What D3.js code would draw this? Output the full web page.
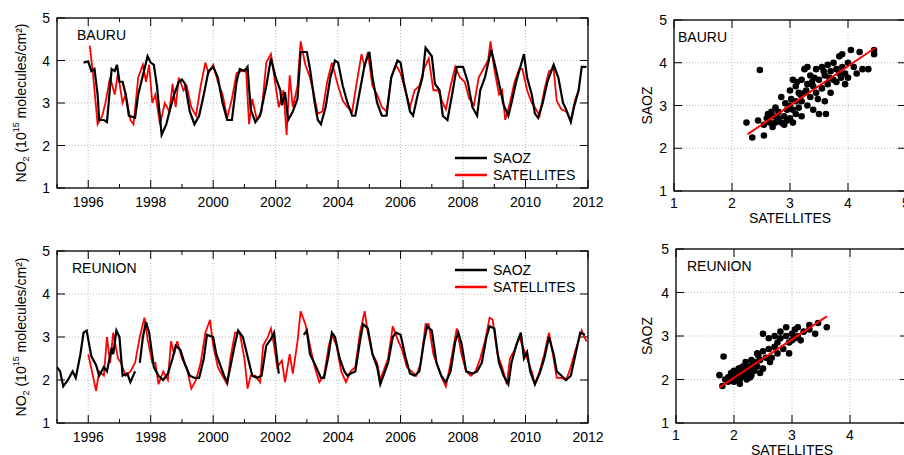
<!DOCTYPE html>
<html><head><meta charset="utf-8">
<script src="https://cdn.jsdelivr.net/npm/d3@7"></script>
<style>body{margin:0;background:#fff}text{font-family:"Liberation Sans",Arial,sans-serif}</style>
</head><body>
<script>
// Series: [decimal year, NO2]
const bauruSaoz = [[1995.85,3.95],[1996.0,3.98],[1996.1,3.75],[1996.2,3.8],[1996.3,3.2],[1996.35,2.6],[1996.5,2.6],[1996.6,2.55],[1996.75,3.8],[1996.85,3.75],[1996.92,3.9],[1997.0,3.5],[1997.1,3.5],[1997.2,3.2],[1997.3,2.7],[1997.5,2.65],[1997.6,3.2],[1997.8,3.8],[1997.9,4.1],[1998.0,3.95],[1998.1,3.9],[1998.2,3.4],[1998.35,2.25],[1998.5,2.5],[1998.6,2.8],[1998.75,3.2],[1998.9,3.5],[1999.0,3.55],[1999.1,3.45],[1999.25,2.8],[1999.4,2.5],[1999.55,2.7],[1999.7,3.2],[1999.85,3.75],[2000.0,3.85],[2000.15,3.6],[2000.3,3.0],[2000.45,2.6],[2000.6,2.6],[2000.75,3.5],[2000.85,3.8],[2001.0,3.75],[2001.1,3.85],[2001.2,2.85],[2001.35,2.55],[2001.5,2.7],[2001.7,3.4],[2001.85,4.05],[2002.0,3.6],[2002.15,3.3],[2002.2,2.95],[2002.3,3.25],[2002.4,2.6],[2002.55,2.8],[2002.7,3.1],[2002.8,4.2],[2003.0,4.2],[2003.1,3.8],[2003.25,3.0],[2003.35,2.6],[2003.45,2.5],[2003.6,2.9],[2003.75,3.6],[2003.9,4.0],[2004.0,3.95],[2004.15,3.4],[2004.3,3.0],[2004.45,2.7],[2004.55,2.7],[2004.7,3.3],[2004.85,3.9],[2005.0,4.2],[2005.1,3.6],[2005.25,3.0],[2005.4,2.7],[2005.55,2.7],[2005.7,3.6],[2005.9,4.0],[2006.0,3.95],[2006.1,3.5],[2006.3,2.8],[2006.4,2.7],[2006.55,3.2],[2006.7,3.6],[2006.8,4.3],[2007.0,4.1],[2007.1,3.45],[2007.25,3.3],[2007.35,2.7],[2007.5,2.6],[2007.65,3.2],[2007.8,3.85],[2008.0,3.85],[2008.15,3.5],[2008.3,2.9],[2008.45,2.7],[2008.55,3.3],[2008.7,3.6],[2008.9,4.25],[2009.05,3.8],[2009.2,3.3],[2009.3,2.95],[2009.45,2.7],[2009.55,3.0],[2009.7,3.5],[2009.95,4.15],[2010.05,3.6],[2010.2,3.2],[2010.3,2.75],[2010.4,2.65],[2010.55,3.0],[2010.7,3.5],[2010.9,3.9],[2011.05,3.6],[2011.2,3.0],[2011.3,2.85],[2011.45,2.55],[2011.55,2.9],[2011.7,3.3],[2011.8,3.85],[2011.95,3.85]];
const bauruSat = [[1996.05,4.35],[1996.15,3.7],[1996.3,2.5],[1996.45,2.7],[1996.55,3.0],[1996.7,3.6],[1996.85,3.2],[1996.95,3.7],[1997.1,3.0],[1997.2,3.2],[1997.35,2.6],[1997.45,2.5],[1997.6,3.6],[1997.75,3.9],[1997.85,3.5],[1997.95,3.9],[1998.05,3.0],[1998.15,3.2],[1998.3,2.5],[1998.45,3.0],[1998.6,2.8],[1998.7,3.45],[1998.8,2.9],[1998.9,3.6],[1999.05,3.3],[1999.15,3.4],[1999.3,2.9],[1999.45,2.7],[1999.6,3.4],[1999.75,3.95],[1999.85,3.7],[2000.0,3.9],[2000.15,3.5],[2000.3,3.2],[2000.45,2.65],[2000.6,3.1],[2000.75,3.7],[2000.9,3.75],[2001.05,3.8],[2001.15,2.5],[2001.25,3.1],[2001.4,2.6],[2001.55,2.8],[2001.7,3.95],[2001.85,4.15],[2002.0,3.4],[2002.1,2.9],[2002.25,3.3],[2002.35,2.25],[2002.45,3.65],[2002.55,2.9],[2002.7,3.4],[2002.8,4.45],[2002.95,3.9],[2003.1,3.6],[2003.2,3.3],[2003.35,2.75],[2003.5,2.8],[2003.65,3.5],[2003.8,3.95],[2004.0,3.4],[2004.15,3.05],[2004.3,2.9],[2004.45,2.8],[2004.6,3.5],[2004.75,4.15],[2004.85,3.85],[2004.95,4.2],[2005.1,3.4],[2005.25,3.2],[2005.4,2.9],[2005.55,2.8],[2005.7,3.6],[2005.85,3.9],[2006.0,3.7],[2006.15,3.3],[2006.3,2.9],[2006.45,3.3],[2006.6,3.4],[2006.75,3.8],[2006.9,4.05],[2007.05,3.3],[2007.2,3.3],[2007.35,3.0],[2007.45,2.85],[2007.6,3.4],[2007.75,3.85],[2007.9,3.6],[2008.05,3.5],[2008.2,3.1],[2008.35,2.95],[2008.5,3.6],[2008.65,3.8],[2008.8,4.0],[2008.88,4.45],[2009.0,3.8],[2009.15,3.2],[2009.25,3.3],[2009.35,2.6],[2009.5,3.0],[2009.65,3.5],[2009.8,3.8],[2009.9,3.8],[2010.05,3.3],[2010.2,3.0],[2010.3,2.9],[2010.45,2.7],[2010.6,3.3],[2010.75,3.75],[2010.9,3.8],[2011.0,3.05],[2011.15,2.85],[2011.3,2.8],[2011.45,2.6],[2011.6,3.1],[2011.7,3.3]];
// null marks a gap in the record
const reunionSaoz = [[1995.0,2.3],[1995.1,2.2],[1995.2,1.85],[1995.35,2.0],[1995.5,2.2],[1995.6,2.05],[1995.75,2.6],[1995.85,3.1],[1995.95,3.15],[1996.1,2.55],[1996.25,2.35],[1996.35,2.1],[1996.5,2.3],[1996.6,2.2],[1996.75,2.75],[1996.8,2.6],[1996.9,3.15],[1997.0,3.0],[1997.1,2.1],[1997.25,2.15],[1997.35,1.95],[1997.5,2.2],null,[1997.65,2.4],[1997.75,3.0],[1997.85,3.35],[1997.95,3.1],[1998.1,2.3],[1998.25,2.1],[1998.4,2.0],[1998.55,2.15],[1998.7,2.5],[1998.8,2.8],[1998.95,2.7],[1999.1,2.35],[1999.25,2.1],[1999.4,2.05],[1999.55,2.05],[1999.7,2.5],[1999.8,3.05],[2000.0,3.0],[2000.1,2.6],[2000.25,2.3],[2000.35,2.1],[2000.45,1.95],[2000.55,2.3],[2000.7,2.85],[2000.8,3.15],[2000.95,3.0],[2001.1,2.55],[2001.25,2.1],[2001.4,2.05],[2001.55,2.1],[2001.7,2.8],[2001.85,2.95],[2001.95,3.1],[2002.1,2.15],null,[2002.9,3.05],[2003.0,3.15],[2003.1,2.6],[2003.3,2.3],[2003.45,2.05],[2003.55,2.05],[2003.7,2.6],[2003.8,3.1],[2003.9,3.0],[2004.05,2.5],[2004.2,2.2],[2004.3,2.1],[2004.4,2.15],[2004.55,2.2],[2004.7,2.9],[2004.8,3.3],[2004.95,3.2],[2005.1,2.6],[2005.25,2.3],[2005.35,1.9],[2005.45,2.1],[2005.6,2.4],[2005.75,3.0],[2005.85,3.1],[2006.0,3.05],[2006.15,2.55],[2006.3,2.15],[2006.45,2.1],[2006.6,2.2],[2006.75,2.9],[2006.85,3.25],[2007.0,3.15],[2007.15,2.4],[2007.3,2.1],[2007.45,1.95],[2007.6,2.2],[2007.75,2.9],[2007.85,3.1],[2007.95,2.85],[2008.1,2.2],[2008.3,2.15],[2008.45,2.2],[2008.6,2.4],[2008.75,3.0],[2008.85,3.25],[2009.0,3.2],[2009.15,2.4],[2009.3,2.1],[2009.45,1.9],[2009.55,2.4],[2009.7,2.8],[2009.85,3.1],[2009.95,2.5],[2010.05,2.65],[2010.15,2.2],[2010.3,1.9],[2010.45,2.15],[2010.6,2.5],[2010.75,3.0],[2010.9,2.6],[2011.0,2.2],[2011.15,2.1],[2011.3,2.0],[2011.45,2.1],[2011.6,2.6],[2011.75,3.1],[2011.9,3.05]];
const reunionSat = [[1996.0,2.6],[1996.15,2.1],[1996.25,1.75],[1996.35,2.2],[1996.5,2.1],[1996.6,3.0],[1996.7,2.4],[1996.8,3.1],[1996.95,2.5],[1997.05,2.4],[1997.2,2.1],[1997.35,2.2],[1997.5,2.4],[1997.65,3.0],[1997.8,3.45],[1997.9,2.95],[1998.05,2.4],[1998.15,2.4],[1998.25,1.9],[1998.4,2.2],[1998.55,2.0],[1998.65,2.9],[1998.75,2.6],[1998.85,2.9],[1999.0,2.5],[1999.15,2.3],[1999.3,1.8],[1999.45,2.0],[1999.6,2.4],[1999.75,3.1],[1999.9,3.4],[2000.0,2.8],[2000.15,2.3],[2000.3,2.1],[2000.45,1.9],[2000.55,2.5],[2000.7,3.1],[2000.85,3.1],[2001.0,2.5],[2001.1,1.8],[2001.2,2.1],[2001.35,2.1],[2001.5,1.95],[2001.6,2.8],[2001.75,3.0],[2001.85,3.2],[2001.95,2.8],[2002.05,2.3],[2002.2,2.45],[2002.3,1.95],[2002.45,2.6],[2002.55,2.15],[2002.7,2.9],[2002.8,3.6],[2002.95,3.3],[2003.1,2.8],[2003.25,2.3],[2003.4,1.95],[2003.55,2.1],[2003.7,2.8],[2003.8,3.05],[2003.95,2.8],[2004.1,2.2],[2004.25,1.95],[2004.4,2.2],[2004.55,2.3],[2004.7,3.1],[2004.85,3.6],[2004.95,3.1],[2005.1,2.6],[2005.25,2.4],[2005.35,2.0],[2005.5,2.3],[2005.6,2.5],[2005.75,3.25],[2005.9,2.95],[2006.05,2.7],[2006.2,2.3],[2006.35,2.2],[2006.5,2.1],[2006.65,2.4],[2006.8,3.3],[2006.9,3.3],[2007.05,2.6],[2007.2,2.3],[2007.35,2.0],[2007.45,1.85],[2007.6,2.4],[2007.8,3.2],[2007.95,2.6],[2008.1,2.2],[2008.25,2.1],[2008.4,2.2],[2008.55,2.5],[2008.7,2.9],[2008.85,3.45],[2008.95,3.4],[2009.1,2.6],[2009.25,2.3],[2009.4,1.9],[2009.5,2.5],[2009.65,2.7],[2009.8,3.0],[2009.9,2.8],[2010.05,2.5],[2010.2,2.2],[2010.3,1.9],[2010.45,2.2],[2010.6,2.6],[2010.75,3.1],[2010.9,2.5],[2011.0,2.05],[2011.15,2.05],[2011.3,2.0],[2011.45,2.3],[2011.6,2.7],[2011.8,3.15],[2011.95,2.9]];

// Scatter: [SATELLITES, SAOZ]
const bauruScatter = [[2.25,2.6],[2.35,2.25],[2.48,3.83],[2.45,2.65],[2.55,2.3],[2.55,2.55],[2.6,2.7],[2.65,2.6],[2.7,2.75],[2.7,2.5],[2.75,2.95],[2.75,2.6],[2.8,2.7],[2.8,2.85],[2.85,2.6],[2.85,3.2],[2.9,2.75],[2.9,2.55],[2.95,2.9],[2.95,2.65],[3.0,3.0],[3.0,2.7],[3.0,3.35],[3.05,3.6],[3.05,2.9],[3.05,2.6],[3.1,3.1],[3.1,2.8],[3.1,3.45],[3.15,3.3],[3.15,2.95],[3.2,3.6],[3.2,3.1],[3.2,2.75],[3.25,3.85],[3.25,3.3],[3.3,3.5],[3.3,3.0],[3.3,3.9],[3.35,3.2],[3.35,3.7],[3.4,3.45],[3.4,2.9],[3.45,3.85],[3.45,3.3],[3.5,3.6],[3.5,2.8],[3.55,3.9],[3.55,3.4],[3.6,3.7],[3.6,3.1],[3.62,2.8],[3.65,3.95],[3.65,3.5],[3.7,3.8],[3.7,3.3],[3.75,4.0],[3.75,3.6],[3.8,3.85],[3.8,3.55],[3.85,4.15],[3.85,3.75],[3.9,3.9],[3.9,4.2],[3.95,3.5],[3.95,3.75],[4.0,4.0],[4.0,3.65],[4.05,4.3],[4.1,3.9],[4.15,3.75],[4.2,4.25],[4.25,3.85],[4.35,3.85],[4.45,4.3],[4.45,4.2],[2.62,2.8],[2.78,2.65],[3.02,3.15],[3.12,3.55],[3.28,3.35],[3.42,3.65],[3.58,3.8],[3.68,3.65],[3.88,3.65],[2.92,3.05],[3.18,3.25],[3.38,3.55],[2.68,2.85],[3.48,3.15]];
const reunionScatter = [[1.75,2.1],[1.8,1.85],[1.82,2.53],[1.85,2.0],[1.9,2.05],[1.9,1.95],[1.95,2.1],[1.95,2.15],[2.0,1.95],[2.0,2.2],[2.05,2.05],[2.05,2.15],[2.1,2.0],[2.1,2.25],[2.1,1.9],[2.15,2.1],[2.15,2.3],[2.2,2.05],[2.2,2.2],[2.2,2.4],[2.25,2.15],[2.25,2.3],[2.3,2.1],[2.3,2.45],[2.3,2.25],[2.35,2.2],[2.35,2.35],[2.4,2.6],[2.4,2.3],[2.45,2.15],[2.45,2.45],[2.5,2.65],[2.5,3.05],[2.5,2.25],[2.55,2.5],[2.6,2.7],[2.6,2.95],[2.65,2.5],[2.7,2.75],[2.7,3.0],[2.75,2.85],[2.75,2.6],[2.8,3.1],[2.8,2.95],[2.85,2.7],[2.9,3.0],[2.9,3.2],[2.95,2.85],[2.95,2.6],[3.0,3.05],[3.0,2.9],[3.05,3.15],[3.05,2.95],[3.1,3.0],[3.1,3.2],[3.15,2.9],[3.2,3.1],[3.3,3.15],[3.3,3.25],[3.4,3.05],[3.45,3.3],[3.6,3.2],[1.98,2.0],[2.12,2.15],[2.28,2.05],[2.38,2.4],[2.18,2.3],[2.02,2.1],[2.42,2.55],[2.62,2.4],[2.22,2.0],[2.08,2.25],[2.32,2.35]];
const bauruFit = [[2.27,2.33],[4.47,4.35]];
const reunionFit = [[1.75,1.82],[3.6,3.45]];
const yearTicks = [1996,1998,2000,2002,2004,2006,2008,2010,2012];
const yearMinor = [1995,1997,1999,2001,2003,2005,2007,2009,2011];
const no2Ticks = [1,2,3,4,5];

const svg = d3.select("body").append("svg").attr("width",904).attr("height",455);

function frame(x, y, xt, yt, xminor, lblDy) {
  const g = svg.append("g");
  const [x0,x1] = x.range(), [y1,y0] = y.range();
  xt.forEach(t => g.append("line").attr("x1",x(t)).attr("x2",x(t)).attr("y1",y0).attr("y2",y1)
    .attr("stroke","#bbb").attr("stroke-dasharray","1,2"));
  yt.forEach(t => g.append("line").attr("x1",x0).attr("x2",x1).attr("y1",y(t)).attr("y2",y(t))
    .attr("stroke","#bbb").attr("stroke-dasharray","1,2"));
  g.append("rect").attr("x",x0).attr("y",y0).attr("width",x1-x0).attr("height",y1-y0)
    .attr("fill","none").attr("stroke","#000").attr("stroke-width",1.3);
  (xminor || []).forEach(t => {
    g.append("line").attr("x1",x(t)).attr("x2",x(t)).attr("y1",y1).attr("y2",y1-4).attr("stroke","#000");
    g.append("line").attr("x1",x(t)).attr("x2",x(t)).attr("y1",y0).attr("y2",y0+4).attr("stroke","#000");
  });
  xt.forEach(t => {
    g.append("line").attr("x1",x(t)).attr("x2",x(t)).attr("y1",y1).attr("y2",y1-8).attr("stroke","#000");
    g.append("line").attr("x1",x(t)).attr("x2",x(t)).attr("y1",y0).attr("y2",y0+8).attr("stroke","#000");
    g.append("text").attr("x",x(t)).attr("y",y1+lblDy).attr("text-anchor","middle").attr("font-size",14).text(t);
  });
  yt.forEach(t => {
    g.append("line").attr("x1",x0).attr("x2",x0+8).attr("y1",y(t)).attr("y2",y(t)).attr("stroke","#000");
    g.append("line").attr("x1",x1).attr("x2",x1-8).attr("y1",y(t)).attr("y2",y(t)).attr("stroke","#000");
    g.append("text").attr("x",x0-7).attr("y",y(t)+5).attr("text-anchor","end").attr("font-size",14).text(t);
  });
}

function timePanel(top, bottom, saoz, sat, name, nameX, legY) {
  const x = d3.scaleLinear().domain([1995,2012]).range([57,588]);
  const y = d3.scaleLinear().domain([1,5]).range([bottom,top]);
  frame(x, y, yearTicks, no2Ticks, yearMinor, 19);
  const line = d3.line().defined(d => d).x(d => x(d[0])).y(d => y(d[1]));
  const clip = "clip" + name;
  svg.append("clipPath").attr("id",clip).append("rect").attr("x",57).attr("y",top).attr("width",531).attr("height",bottom-top);
  svg.append("path").attr("d",line(sat)).attr("fill","none").attr("stroke","#f00").attr("stroke-width",1.8).attr("clip-path",`url(#${clip})`);
  svg.append("path").attr("d",line(saoz)).attr("fill","none").attr("stroke","#000").attr("stroke-width",2.2).attr("clip-path",`url(#${clip})`);
  svg.append("text").attr("x",nameX).attr("y",top+22).attr("font-size",14).text(name);
  [["SAOZ","#000",0],["SATELLITES","#f00",17]].forEach(([t,c,dy]) => {
    svg.append("line").attr("x1",455).attr("x2",487).attr("y1",legY+dy).attr("y2",legY+dy).attr("stroke",c).attr("stroke-width",2.5);
    svg.append("text").attr("x",493).attr("y",legY+dy+5).attr("font-size",14).text(t);
  });
  const yl = svg.append("text").attr("transform",`translate(26,${(top+bottom)/2}) rotate(-90)`)
    .attr("text-anchor","middle").attr("font-size",14);
  yl.append("tspan").text("NO");
  yl.append("tspan").attr("font-size",9).attr("dy",3).text("2");
  yl.append("tspan").attr("dy",-3).text(" (10");
  yl.append("tspan").attr("font-size",9).attr("dy",-7).text("15");
  yl.append("tspan").attr("dy",7).text(" molecules/cm²)");
}

function scatterPanel(left, top, bottom, pts, fit, name) {
  const x = d3.scaleLinear().domain([1,5]).range([left,left+232]);
  const y = d3.scaleLinear().domain([1,5]).range([bottom,top]);
  frame(x, y, no2Ticks, no2Ticks, null, 17);
  svg.append("g").selectAll("circle").data(pts).join("circle")
    .attr("cx",d => x(d[0])).attr("cy",d => y(d[1])).attr("r",3.3).attr("fill","#000");
  svg.append("line").attr("x1",x(fit[0][0])).attr("y1",y(fit[0][1])).attr("x2",x(fit[1][0])).attr("y2",y(fit[1][1]))
    .attr("stroke","#f00").attr("stroke-width",2);
  svg.append("text").attr("x",left+(name==="BAURU"?4:11)).attr("y",top+22).attr("font-size",14).text(name);
  svg.append("text").attr("x",left+116).attr("y",bottom+32).attr("text-anchor","middle").attr("font-size",14).text("SATELLITES");
  svg.append("text").attr("transform",`translate(652,${(top+bottom)/2}) rotate(-90)`)
    .attr("text-anchor","middle").attr("font-size",14).text("SAOZ");
}

timePanel(18, 188, bauruSaoz, bauruSat, "BAURU", 77, 158);
timePanel(251, 423, reunionSaoz, reunionSat, "REUNION", 72, 270);
scatterPanel(674, 20, 191, bauruScatter, bauruFit, "BAURU");
scatterPanel(676, 249, 423, reunionScatter, reunionFit, "REUNION");
</script>
</body></html>
